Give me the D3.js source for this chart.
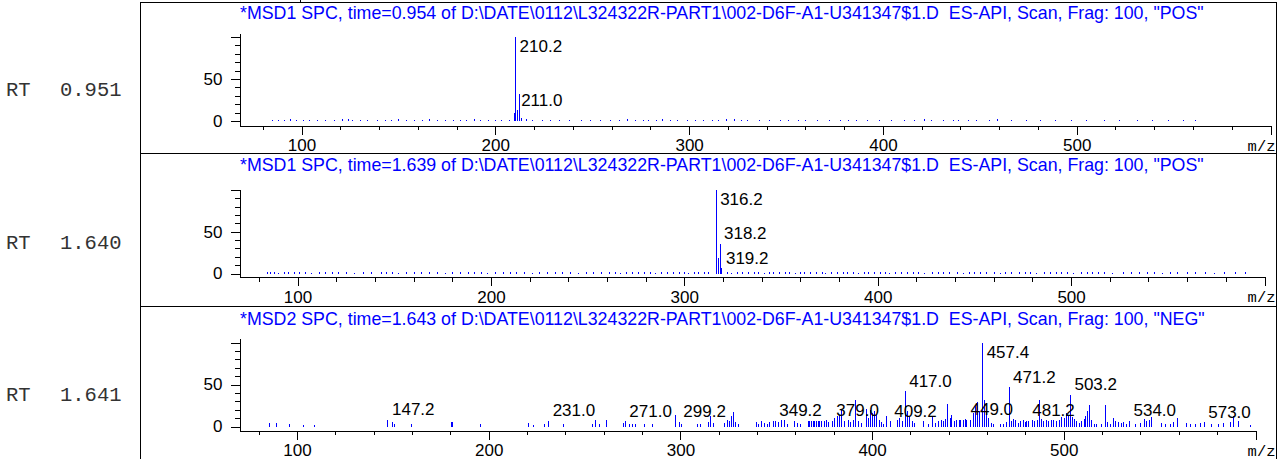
<!DOCTYPE html>
<html>
<head>
<meta charset="utf-8">
<script src="https://cdn.jsdelivr.net/npm/d3@7"></script>
<style>
  html, body { margin: 0; padding: 0; background: #fff; }
  svg { display: block; }
  text { font-family: "Liberation Sans", Arial, sans-serif; }
  .mono { font-family: "Liberation Mono", "Courier New", monospace; }
  .pre { white-space: pre; }
</style>
</head>
<body>
<svg id="chart" width="1280" height="459"></svg>
<script>
// ---------- spectrum headers ----------
const titles = [
  '*MSD1 SPC, time=0.954 of D:\\DATE\\0112\\L324322R-PART1\\002-D6F-A1-U341347$1.D  ES-API, Scan, Frag: 100, "POS"',
  '*MSD1 SPC, time=1.639 of D:\\DATE\\0112\\L324322R-PART1\\002-D6F-A1-U341347$1.D  ES-API, Scan, Frag: 100, "POS"',
  '*MSD2 SPC, time=1.643 of D:\\DATE\\0112\\L324322R-PART1\\002-D6F-A1-U341347$1.D  ES-API, Scan, Frag: 100, "NEG"'
];
const rtTimes = ["0.951", "1.640", "1.641"];
const xTickLabels = [100, 200, 300, 400, 500];
const yTickLabels = [0, 50];

// ---------- scan 1 (RT 0.951, positive) : [m/z, relative abundance %] ----------
const peaks1 = [[209.4, 10], [210.2, 100], [211.0, 13], [212.2, 32], [213.2, 4]];
const labels1 = [210.2, 211.0];
const noise1 = [
  [85,1.2],[88,1.5],[91,1],[94,1.8],[97,1.2],[101,1.5],[104,1],[108,1.5],[112,1.2],[117,1.5],
  [121,1.8],[124,2.4],[126,1.5],[130,1.2],[134,1.5],[139,1],[143,1.5],[146,1.2],[150,1.8],[154,1.2],
  [158,1.5],[162,1],[166,1.8],[170,1.2],[174,1.5],[178,1.5],[182,1.2],[185,1.5],[189,1.8],[192,1.5],
  [196,1],[200,1.5],[203,1.2],[207,1.5],[216,1.8],[219,1.2],[224,1.5],[228,1],[233,1.5],[238,1.2],
  [244,1.5],[249,1],[254,1.5],[259,1.2],[264,1.5],[268,1.8],[272,1.2],[276,1.5],[279,1],[283,1.5],
  [286,1.8],[290,1.5],[294,1.2],[299,1.5],[303,1.2],[307,1.5],[312,1],[315,1.5],[319,1.8],[323,1.8],
  [327,1.2],[330,1.5],[336,1],[341,1.5],[347,1.2],[351,1.5],[356,1.2],[360,1.5],[366,1],[372,1.5],
  [378,1.2],[382,1.5],[386,1.2],[392,1.5],[398,1],[404,1.5],[411,1.2],[416,1.5],[421,1.8],[425,1.2],
  [431,1.5],[436,1.5],[439,1.2],[444,1.5],[448,1],[455,1.5],[459,1.8],[466,1.2],[474,1.5],[481,1],
  [489,1.5],[497,1.2],[505,1.5],[514,1.2],[522,1.5],[531,1],[539,1.5],[547,1.2],[555,1.5],[561,1.2]
];

// ---------- scan 2 (RT 1.640, positive) ----------
const peaks2 = [[316.2, 100], [317.2, 18.5], [318.2, 35.5], [319.2, 6]];
const labels2 = [316.2, 318.2, 319.2];
const noise2 = [
  [84,1.5],[86,1.2],[88,1.5],[90,1],[93,1.5],[95,1.2],[98,1.8],[101,1.2],[104,1.5],[107,1],
  [111,1.5],[114,1.2],[118,1.5],[121,1.2],[125,1.5],[129,1],[134,1.5],[138,1.2],[143,1.5],[146,1.2],
  [149,1.5],[152,1],[156,1.5],[160,1.2],[164,1.8],[168,1.2],[172,1.5],[176,1],[180,1.5],[184,1.2],
  [188,1.5],[191,1.2],[195,1.5],[198,1],[202,1.5],[206,1.2],[210,1.8],[213,1.2],[217,1.5],[221,1],
  [225,1.5],[229,1.2],[233,1.5],[237,1.2],[241,1.5],[245,1],[249,1.5],[253,1.2],[257,1.5],[261,1.2],
  [264,1.5],[267,1],[270,1.5],[273,1.2],[276,1.8],[279,1.2],[282,1.5],[285,1],[288,1.5],[291,1.2],
  [294,1.5],[297,1.2],[300,1.5],[302,1],[305,1.5],[307,1.2],[310,1.5],[312,1.2],[322,1.5],[324,1],
  [327,1.5],[330,1.2],[333,1.8],[336,1.2],[338,1.5],[341,1],[344,1.5],[346,1.2],[349,1.5],[352,1.2],
  [354,1.5],[357,1],[360,1.5],[362,1.2],[365,1.5],[368,1.2],[371,1.5],[373,1],[376,1.5],[379,1.2],
  [382,1.8],[384,1.2],[387,1.5],[390,1],[393,1.5],[395,1.2],[398,1.5],[401,1.2],[404,1.5],[406,1],
  [409,1.5],[412,1.2],[415,1.5],[418,1.2],[421,1.5],[424,1],[428,1.5],[431,1.2],[434,1.8],[437,1.2],
  [441,1.5],[444,1],[447,1.5],[450,1.2],[453,1.5],[456,1.2],[460,1.5],[463,1],[466,1.5],[469,1.2],
  [473,1.5],[476,1.2],[479,1.5],[482,1],[486,1.5],[489,1.2],[492,1.8],[495,1.2],[498,1.5],[501,1],
  [505,1.5],[508,1.2],[511,1.5],[514,1.2],[517,1.5],[521,1],[527,1.5],[531,1.2],[535,1.5],[539,1.2],
  [543,1.5],[547,1],[551,1.5],[555,1.2],[560,1.5],[564,1.2],[569,1.5],[574,1],[579,1.5],[585,1.2],[590,1.5]
];

// ---------- scan 3 (RT 1.641, negative) ----------
const peaks3 = [
  [85.2,4],[89.1,4.5],[95.7,3],[103.2,2],[109.1,2],
  [147.2,8],[149.3,5],[150.4,3],[159.3,3],[180.2,5],[181.1,5],[195.3,3.5],
  [220.3,4],[222.9,2],[229.0,3.5],[231.0,7],[238.6,2.5],
  [253.9,2.5],[255.7,8],[257.4,3.5],[261.4,8],
  [270.1,4],[271.0,6],[273.0,3.5],[274.8,3],[276.5,2.5],[280.9,2.5],[285.2,2.5],
  [297.4,14],[299.2,5.5],[300.3,3.5],[308.9,3.5],[310.4,3.5],[314.2,5],[315.4,13],[316.8,4],
  [322.9,4],[324.3,8],[325.5,6],[326.4,13],[327.6,17],[328.6,5],[329.9,2.5],
  [339.4,5],[340.6,3.5],[342.0,6],[343.8,4],[345.2,3],[346.4,5],[348.1,7],[349.2,7],[350.9,5],
  [352.5,7.5],[354.2,7.5],[355.6,2.5],[359.4,6],[360.8,4],[362.6,2.5],
  [366.4,7],[367.3,6],[368.1,7],[369.0,6],[369.9,7],[370.7,6],[371.6,7],[372.5,6],[373.3,7],
  [374.7,6],[376.0,8],[377.2,5],
  [379.0,7],[380.3,10],[381.7,12],[382.9,14],[383.9,20],[385.6,6],[387.3,8],[388.6,5],[389.9,8],
  [391.1,32],[392.5,6],[394.2,4],
  [396.8,21],[398.0,10],[399.1,20],[400.0,16],[401.2,18],[402.0,14],[403.4,7.5],[404.6,5],
  [405.5,3.5],[407.3,13],[409.2,6],[413.0,7.5],[414.2,10],[415.4,6],[417.0,42],[418.2,18],
  [419.4,11.5],[420.8,6],[422.0,4],
  [426.5,6],[429.1,2.5],[431.2,12],[432.6,4],[434.3,7],[435.7,8],[436.9,6],[438.1,9],[439.3,27],
  [440.4,10],[441.3,14],[442.5,6],[443.9,7.5],[445.1,8],[446.1,8],[447.3,8],[448.4,9],[449.0,8],
  [451.3,8],[452.6,16],[453.8,26],[454.8,29],[456.0,18],[457.4,100],[458.3,32],[459.2,18],
  [460.4,10],[461.8,4],[463.0,2.5],[466.5,3],[468.2,3],[469.9,5],[471.2,47],[472.2,6],[473.4,9],
  [474.6,7.5],[476.0,4],[477.4,6],[478.6,7.5],[479.9,5],[480.5,6],[481.2,7],[483.3,8],[484.7,6],
  [485.9,8],[487.0,31],[488.2,9],[489.4,6],[490.8,7.5],[492.0,6],[493.4,8],[494.6,7.5],[496.0,6],
  [497.3,8],[498.6,11.5],[500.0,10],[501.3,16],[502.1,12],[503.2,38],[504.3,11.5],[505.3,9],
  [506.5,6],[507.7,4],[509.1,6],[510.3,9],[511.3,13],[512.2,18],[513.1,26],[514.3,8],[515.7,3.5],
  [516.9,2.5],[519.5,3],[521.3,26],[522.5,5],[523.9,3],[525.6,10],[526.8,6],[528.2,5],[529.6,4],
  [530.8,5],[532.6,3],[534.0,7],[536.9,3],[539.5,4],[541.8,9],[543.0,6],[544.4,8],[545.6,11.5],
  [550.8,4],[552.6,2.5],[555.2,3],[556.9,5],[559.2,10],[563.9,4],[565.6,3],[568.2,2.5],[570.8,4],
  [573.0,5],[576.9,3],[580.4,2.5],[583.0,4],[586.5,5],[588.2,13],[590.8,6],[596.9,1.5]
];
const labels3 = [147.2, 231.0, 271.0, 299.2, 349.2, 379.0, 409.2, 417.0, 449.0, 457.4, 471.2, 481.2, 503.2, 534.0, 573.0];

// ---------- layout of the three stacked spectra ----------
const frame = { left: 140.5, right: 1276.5, top: 2.5, bottom: 459 };
const plotLeft = 239.5;
const mzMax = 600;
const panels = [
  { top: 2.5,   mzMin: 68, xEnd: 1270.5, y0: 121,   ppu: 0.84,  yTop: 104.5, axisY: 125.5, titleY: 18.5,  rtY: 96 },
  { top: 153.5, mzMin: 70, xEnd: 1264.5, y0: 273.5, ppu: 0.835, yTop: 101,   axisY: 277,   titleY: 170.5, rtY: 248.5 },
  { top: 306.5, mzMin: 70, xEnd: 1255.5, y0: 426.5, ppu: 0.84,  yTop: 104.5, axisY: 430.5, titleY: 325,   rtY: 401 }
];
const scans = [
  { peaks: peaks1, noise: noise1, labels: labels1 },
  { peaks: peaks2, noise: noise2, labels: labels2 },
  { peaks: peaks3, noise: [],     labels: labels3 }
];

const svg = d3.select("#chart");
const blue = "#0000ff";

// outer frame and separators
const fr = svg.append("g").attr("fill", "none").attr("stroke", "#000").attr("stroke-width", 1)
  .attr("shape-rendering", "crispEdges");
fr.append("path").attr("d", `M${frame.left},${frame.bottom}V${frame.top}H${frame.right}V${frame.bottom}`);
fr.append("path").attr("d", `M300.5,0V${frame.top}`);
panels.slice(1).forEach(p => {
  fr.append("path").attr("d", `M${frame.left},${p.top}H${frame.right}`);
});

panels.forEach((p, i) => {
  const scan = scans[i];
  const g = svg.append("g");

  const x = d3.scaleLinear().domain([p.mzMin, mzMax]).range([plotLeft, p.xEnd]);
  const y = d3.scaleLinear().domain([0, 100]).range([p.y0, p.y0 - 100 * p.ppu]);
  const px = v => Math.round(x(v)) + 0.5;

  // title
  g.append("text").attr("class", "pre")
    .attr("x", 240).attr("y", p.titleY)
    .attr("font-size", 17.8).attr("fill", blue)
    .text(titles[i]);

  // retention time
  g.append("text").attr("class", "mono").attr("x", 6).attr("y", p.rtY)
    .attr("font-size", 20.5).attr("fill", "#333").text("RT");
  g.append("text").attr("class", "mono").attr("x", 60).attr("y", p.rtY)
    .attr("font-size", 20.5).attr("fill", "#333").text(rtTimes[i]);

  // x axis: minor ticks every 20, major every 100
  const xMinor = d3.axisBottom(x).tickValues(d3.range(80, mzMax + 1, 20)).tickSize(4.5)
    .tickSizeOuter(0).tickFormat("");
  const xMajor = d3.axisBottom(x).tickValues(d3.range(100, mzMax + 1, 100)).tickSize(9)
    .tickSizeOuter(0).tickFormat(d => xTickLabels.includes(d) ? d : "");
  const gx1 = g.append("g").attr("transform", `translate(0,${p.axisY})`).call(xMinor);
  const gx2 = g.append("g").attr("transform", `translate(0,${p.axisY})`).call(xMajor);
  gx2.select(".domain").remove();
  [gx1, gx2].forEach(a => {
    a.attr("font-family", null).attr("font-size", null).attr("shape-rendering", "crispEdges");
    a.selectAll("line").attr("stroke", "#000");
    a.select(".domain").attr("stroke", "#000");
  });
  gx2.selectAll("text").attr("y", 13.5).attr("dy", "0.71em")
    .attr("font-size", 17).attr("fill", "#000");

  // y axis spans from the x axis to the top of the plot
  const yAxisScale = y.copy().domain([y.invert(p.axisY), p.yTop]).range([p.axisY, y(p.yTop)]);
  const yMinor = d3.axisLeft(yAxisScale).tickValues(d3.range(0, 101, 10).filter(v => v % 50 !== 0))
    .tickSize(5).tickSizeOuter(0).tickFormat("");
  const yMajor = d3.axisLeft(yAxisScale).tickValues([0, 50, 100]).tickSize(9).tickSizeOuter(0)
    .tickFormat(d => yTickLabels.includes(d) ? d : "");
  const gy1 = g.append("g").attr("transform", `translate(${plotLeft},0)`).call(yMinor);
  const gy2 = g.append("g").attr("transform", `translate(${plotLeft},0)`).call(yMajor);
  gy2.select(".domain").remove();
  [gy1, gy2].forEach(a => {
    a.attr("font-family", null).attr("font-size", null).attr("shape-rendering", "crispEdges");
    a.selectAll("line").attr("stroke", "#000");
    a.select(".domain").attr("stroke", "#000");
  });
  gy2.selectAll("text").attr("x", -17).attr("font-size", 17).attr("fill", "#000");

  // m/z unit
  g.append("text").attr("class", "mono").attr("x", 1275.5).attr("y", p.axisY + 25)
    .attr("text-anchor", "end").attr("font-size", 15.5).attr("fill", "#000").text("m/z");

  // spectrum lines
  const sticks = scan.noise.concat(scan.peaks);
  g.append("g").attr("stroke", blue).attr("stroke-width", 1).attr("shape-rendering", "crispEdges")
    .selectAll("line").data(sticks).join("line")
    .attr("x1", d => px(d[0])).attr("x2", d => px(d[0]))
    .attr("y1", y(0)).attr("y2", d => y(d[1]));

  // peak annotations
  const abundance = new Map(scan.peaks.map(d => [d[0], d[1]]));
  g.append("g").selectAll("text").data(scan.labels).join("text")
    .attr("x", d => x(d) + 4.5)
    .attr("y", d => Math.max(y(abundance.get(d)) - 10.5, y(100) + 9) + 6)
    .attr("font-size", 17).attr("fill", "#000")
    .text(d => d.toFixed(1));
});
</script>
</body>
</html>
